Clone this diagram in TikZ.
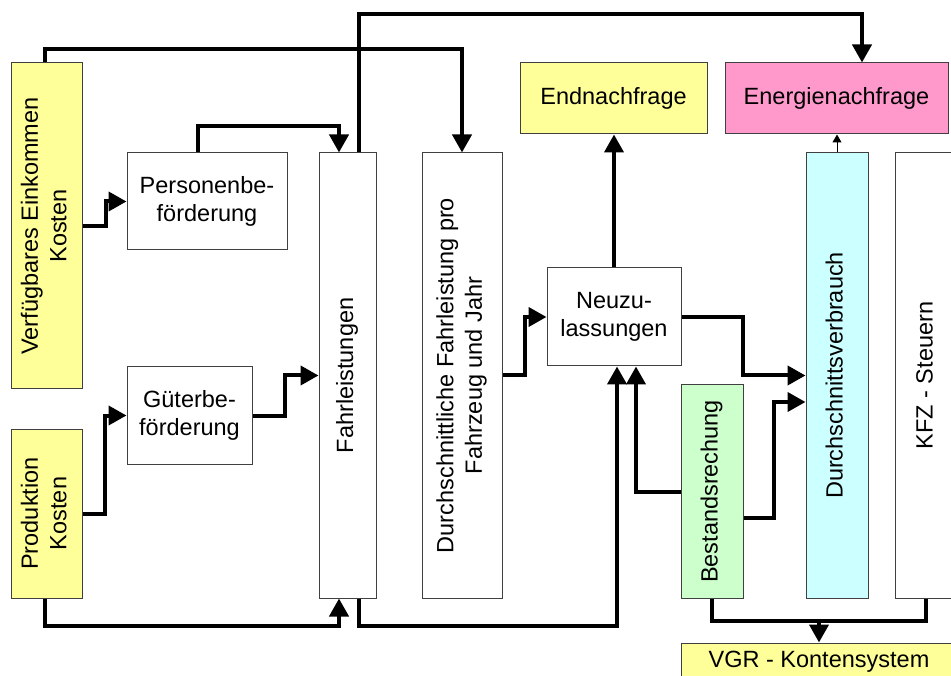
\documentclass[tikz,border=0pt]{standalone}
\usepackage{fontspec}
\setmainfont{Liberation Sans}
\usetikzlibrary{arrows.meta}
\definecolor{cyel}{HTML}{FFFF99}
\definecolor{cpink}{HTML}{FF99CC}
\definecolor{ccyan}{HTML}{CCFFFF}
\definecolor{cgreen}{HTML}{CCFFCC}
\definecolor{cbord}{HTML}{404040}
\newcommand{\rot}[1]{\rotatebox{90}{\begin{tabular}{@{}c@{}}#1\end{tabular}}}
\begin{document}
\begin{tikzpicture}[x=1pt,y=-1pt,
  box/.style={draw=cbord,line width=1pt,fill=white,inner sep=0pt,align=center,
    font=\fontsize{23.5}{28.5}\selectfont},
  arr/.style={line width=4pt,-{Triangle[width=19pt,length=18pt]}},
  conn/.style={line width=4pt},
  thinarr/.style={line width=1pt,-{Triangle[width=9pt,length=8pt]}}]
\clip (0,0) rectangle (951,676);
\fill[white] (0,0) rectangle (951,676);
% nodes
\node[box,fill=cyel,minimum width=71pt,minimum height=326pt] (vek) at (46.5,226) {\rot{Verfügbares Einkommen\\Kosten}};
\node[box,fill=cyel,minimum width=71pt,minimum height=169pt] (prod) at (46.5,513.5) {\rot{Produktion\\Kosten}};
\node[box,minimum width=160pt,minimum height=97pt] (pers) at (207,201.5) {Personenbe-\\förderung};
\node[box,minimum width=125pt,minimum height=97pt] (gut) at (189.5,415.5) {Güterbe-\\förderung};
\node[box,minimum width=57pt,minimum height=445pt] (fahr) at (347.5,375.5) {\rot{Fahrleistungen}};
\node[box,minimum width=80pt,minimum height=445pt] (dfl) at (462,375.5) {\rot{Durchschnittliche Fahrleistung pro\\Fahrzeug und Jahr}};
\node[box,minimum width=134pt,minimum height=98pt] (neu) at (614,317) {Neuzu-\\lassungen};
\node[box,fill=cyel,minimum width=187pt,minimum height=71pt] (end) at (613.5,98.5) {Endnachfrage};
\node[box,fill=cpink,minimum width=223pt,minimum height=71pt] (ene) at (836.5,98.5) {Energienachfrage};
\node[box,fill=ccyan,minimum width=62pt,minimum height=445pt] (dsv) at (837,375.5) {\rot{Durchschnittsverbrauch}};
\node[box,minimum width=64pt,minimum height=445pt] (kfz) at (927,375.5) {\rot{KFZ - Steuern}};
\node[box,fill=cgreen,minimum width=62pt,minimum height=213pt] (best) at (712,491.5) {\rot{Bestandsrechung}};
\node[box,fill=cyel,minimum width=276pt,minimum height=38pt] (vgr) at (819,662) {VGR - Kontensystem};
\coordinate (merge) at (819,621);
% connectors
\draw[arr] (fahr.north -| 359,0) -- (359,14) -| (ene.north -| 862,0);
\draw[arr] (vek.north -| 45,0) -- (45,49) -| (dfl.north);
\draw[arr] (pers.north -| 198,0) -- (198,126) -| (fahr.north -| 339,0);
\draw[arr] (vek.east) -- (106,226) |- (pers.west);
\draw[arr] (prod.east) -- (105,513.5) |- (gut.west);
\draw[arr] (gut.east) -- (285,415.5) |- (fahr.west);
\draw[arr] (prod.south -| 45,0) -- (45,626) -| (fahr.south -| 339,0);
\draw[arr] (fahr.south -| 359,0) -- (359,626) -| (neu.south -| 617,0);
\draw[arr] (dfl.east) -- (525,375.5) |- (neu.west);
\draw[arr] (neu.east) -- (743,317) |- (dsv.west);
\draw[arr] (neu.north) -- (neu.north |- end.south);
\draw[arr] (best.west) -| (neu.south -| 636,0);
\draw[arr] (best.east |- 0,518) -- (774,518) |- (dsv.west |- 0,402);
\draw[thinarr] (dsv.north) -- (dsv.north |- ene.south);
\draw[conn] (best.south) -- (712,621) -| (kfz.south -| 926,0);
\draw[arr] (merge) -- (vgr.north);
\end{tikzpicture}
\end{document}
